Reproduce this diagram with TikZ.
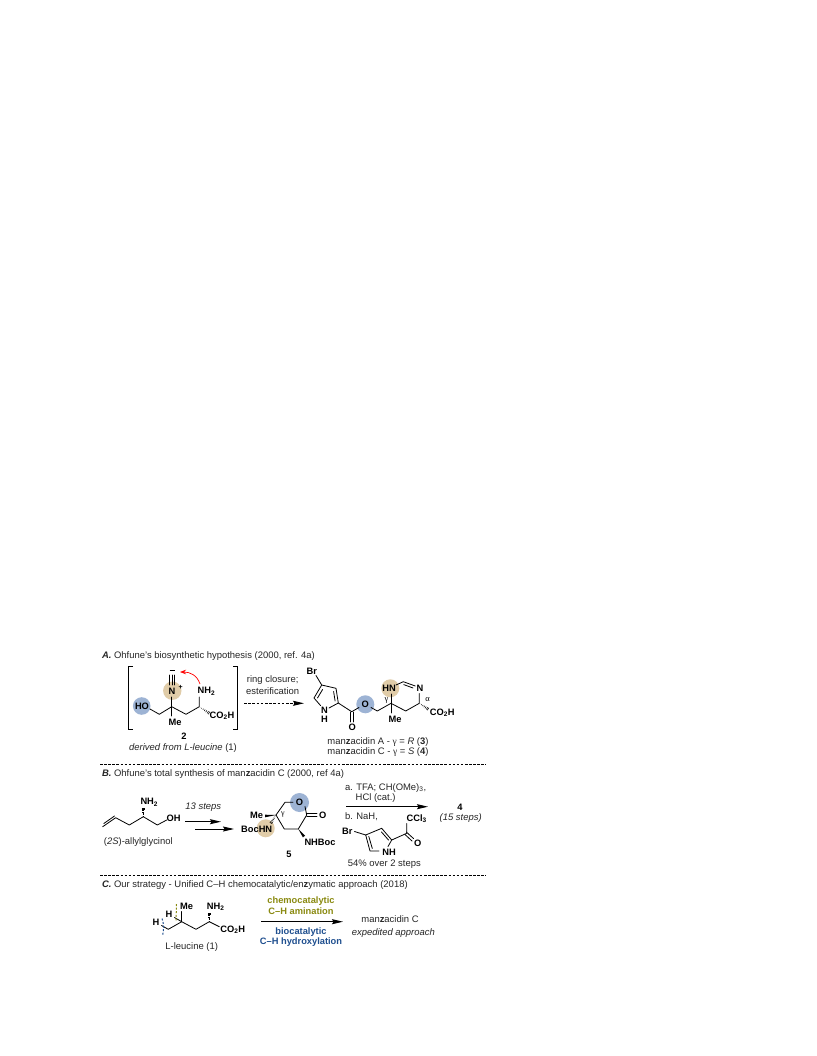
\documentclass[tikz,border=0pt]{standalone}
\usepackage{fontspec}
\setmainfont{Liberation Sans}
\newfontfamily\greekf{Liberation Serif}
\usetikzlibrary{arrows.meta,calc}
\definecolor{bluec}{HTML}{9DB3D4}
\definecolor{tanc}{HTML}{E0CCA8}
\definecolor{olivet}{HTML}{8A8A10}
\definecolor{bluet}{HTML}{1F4F8F}
\newcommand\hashb[4]{\foreach \t in {0.08,0.24,0.40,0.56,0.72,0.88,1.0}{%
  \pgfmathsetmacro\cx{#1+\t*(#3-#1)}\pgfmathsetmacro\cy{#2+\t*(#4-#2)}%
  \pgfmathsetmacro\len{veclen(#3-#1,#4-#2)}%
  \pgfmathsetmacro\nx{-(#4-#2)/\len*\t*1.5}\pgfmathsetmacro\ny{(#3-#1)/\len*\t*1.5}%
  \draw[line width=.55pt] (\cx-\nx-.0,\cy-\ny) -- (\cx+\nx,\cy+\ny);}}
\newcommand\wedgeb[4]{%
  \pgfmathsetmacro\len{veclen(#3-#1,#4-#2)}%
  \pgfmathsetmacro\nx{-(#4-#2)/\len*1.4}\pgfmathsetmacro\ny{(#3-#1)/\len*1.4}%
  \fill (#1,#2) -- (#3-\nx,#4-\ny) -- (#3+\nx,#4+\ny) -- cycle;}
\newcommand\mz{man\textbf{z}acidin}
\newcommand\gam{{\greekf γ}}
\newcommand\alp{{\greekf α}}
\newcommand\sbs[1]{\textsubscript{#1}}
\tikzset{
  txt/.style={inner sep=0pt,outer sep=0pt,font=\fontsize{9.45}{11}\selectfont,text=black!85},
  atom/.style={inner sep=0pt,outer sep=0pt,font=\fontsize{9.3}{11}\selectfont\bfseries},
  bond/.style={line width=.8pt,line join=round,line cap=round},
  rarrow/.style={line width=.9pt,-{Stealth[length=11pt,width=5pt,inset=1.5pt]}},
  bluedisc/.style={fill=bluec,draw=none},
  tandisc/.style={fill=tanc,draw=none},
  rule/.style={line width=.55pt,dash pattern=on 2.6pt off 1.5pt}
}
\begin{document}
\begin{tikzpicture}[x=1pt,y=-1pt]
\useasboundingbox (0,0) rectangle (816,1056);
\fill[white] (0,0) rectangle (816,1056);

% discs
\fill[bluedisc] (141.7,706) circle (8.8);
\fill[tandisc] (172.3,690.7) circle (9.2);
\fill[bluedisc] (365.3,704.3) circle (9);
\fill[tandisc] (390.3,688.3) circle (9);
\fill[tandisc] (265.7,828.3) circle (9);
\fill[bluedisc] (299.5,802.5) circle (9.5);

% Panel A
\node[txt,anchor=west] (ta) at (102,656) {\textbf{\textit{A.}} Ohfune's biosynthetic hypothesis (2000, ref. 4a)};
\draw[line width=.7pt] (133,666) -- (128.3,666) -- (128.3,729) -- (133,729);
\draw[line width=.7pt] (233,666) -- (237.7,666) -- (237.7,729) -- (233,729);
\draw[bond] (150,709) -- (159.3,714.3) -- (171.7,706.7) -- (186,714.3) -- (199.3,706.7) -- (199.3,697);
\draw[bond] (171.7,706.7) -- (171.7,716);
\draw[bond] (171.7,706.7) -- (171.7,697);
\draw[bond] (169.3,675) -- (169.3,685) (171.9,675) -- (171.9,685) (174.5,675) -- (174.5,685);
\draw[line width=.7pt] (169.7,670) -- (174.7,670);
\hashb{199.3}{706.7}{209}{713}
\node[atom] (ho) at (142,706) {HO};
\node[atom] (n2) at (172,691) {N};
\node[atom,font=\fontsize{7}{8}\selectfont\bfseries] (plus) at (180.7,687) {+};
\node[atom] (nh2a) at (206.5,691.5) {NH\sbs{2}};
\node[atom] (co2ha) at (222,715.5) {CO\sbs{2}H};
\node[atom] (mea) at (175,722.5) {Me};
\coordinate (ra) at (200,684);
\coordinate (rb) at (180,672);
\draw[red,line width=.7pt,-{Stealth[length=6pt,width=4.5pt]}] (ra) .. controls (197,675) and (190,672) .. (rb);
\node[atom] (two) at (184,736) {2};
\node[txt] (d2) at (183,748) {\textit{derived from L-leucine} (1)};
\node[txt] (r1) at (272.7,680) {ring closure;};
\node[txt] (r2) at (272.7,690.7) {esterification};
\coordinate (aa) at (244,703.3);
\coordinate (ab) at (304,703.3);
\draw[rarrow,dash pattern=on 2.6pt off 1.6pt] (aa) -- (ab);

% pyrrole A
\draw[bond] (316,675.5) -- (321.7,685) -- (336,688.3) -- (338.3,703) -- (329,708);
\draw[bond] (321.7,685) -- (314,698) -- (320.5,705.5);
\draw[bond] (322.6,689.5) -- (317.5,698);
\draw[bond] (333.6,691.5) -- (335.1,701);
\draw[bond] (338.3,703) -- (351.7,711.7) -- (359,707.5);
\draw[bond] (350.4,712) -- (350.4,722) (353.1,712) -- (353.1,722);
\draw[bond] (371,707.5) -- (377.3,711) -- (391,703.3) -- (405.7,711) -- (419.3,703.3) -- (419.3,693.5);
\draw[bond] (391,703.3) -- (391,713);
\draw[bond] (391,703.3) -- (391,694);
\draw[bond] (396,685) -- (403.3,681.7) -- (415.3,686);
\draw[bond] (403.8,684.6) -- (413,688);
\hashb{419.3}{703.3}{428}{709}
\node[atom] (br1) at (311.7,671) {Br};
\node[atom] (n1) at (324.5,710) {N};
\node[atom] (h1) at (324.5,719) {H};
\node[atom] (oa) at (352.3,727.5) {O};
\node[atom] (ob) at (365.3,704.3) {O};
\node[atom] (hn) at (389,688.5) {HN};
\node[atom] (n3) at (420,688.5) {N};
\node[atom] (me3) at (395,719.3) {Me};
\node[atom] (co2h3) at (442.3,713) {CO\sbs{2}H};
\node[inner sep=0pt,font=\fontsize{8.5}{9}\selectfont] (g3) at (386.5,700) {\gam};
\node[inner sep=0pt,font=\fontsize{8.5}{9}\selectfont] (a3) at (427.5,700) {\alp};
\node[txt] (m1) at (378,741.7) {\mz{} A - \gam{} = \textit{R} (\textbf{3})};
\node[txt] (m2) at (378,752.3) {\mz{} C - \gam{} = \textit{S} (\textbf{4})};

\coordinate (d1a) at (100,764.5); \coordinate (d1b) at (486,764.5);
\draw[rule] (d1a) -- (d1b);

% Panel B
\node[txt,anchor=west] (tb) at (102,774) {\textbf{\textit{B.}} Ohfune's total synthesis of \mz{} C (2000, ref 4a)};
\draw[bond] (102.7,826.7) -- (115.7,817.7) -- (129.3,825) -- (143.3,816.7) -- (157.3,825) -- (166.7,820);
\draw[bond] (103.8,823.5) -- (114.5,816);
\hashb{143.3}{816.7}{143.3}{808}
\node[atom] (nh2b) at (149.3,802.3) {NH\sbs{2}};
\node[atom] (oh) at (173.5,818) {OH};
\node[txt] (ag) at (138.3,841.7) {(\textit{2S})-allylglycinol};
\node[txt] (s13) at (203.3,806.7) {\textit{13 steps}};
\coordinate (b1a) at (185,821.7); \coordinate (b1b) at (221,821.7);
\coordinate (b2a) at (195,829); \coordinate (b2b) at (234,829);
\draw[rarrow] (b1a) -- (b1b);
\draw[rarrow] (b2a) -- (b2b);

\draw[bond] (276,815) -- (285,802.3) -- (293,802.3);
\draw[bond] (305,806.5) -- (306.7,815) -- (298.3,829) -- (284.3,829) -- (276,815);
\draw[bond] (306.7,813.7) -- (317,813.7) (306.7,816.3) -- (317,816.3);
\fill (276,815) -- (265,814.7) -- (265,817.3) -- cycle;
\hashb{276}{815}{271}{823}
\wedgeb{298.3}{829}{304}{836.5}
\node[atom] (me5) at (256.7,815.7) {Me};
\node[atom] (boc) at (256.7,829) {BocHN};
\node[atom] (o5) at (299.5,802.5) {O};
\node[atom] (o5b) at (322.7,815.7) {O};
\node[atom] (nhboc) at (320,842.3) {NHBoc};
\node[atom] (five) at (289,854.3) {5};
\node[inner sep=0pt,font=\fontsize{8}{9}\selectfont] (g5) at (283,815) {\gam};

\node[txt,anchor=west] (ra1) at (345,788) {a. TFA; CH(OMe)\sbs{3},};
\node[txt,anchor=west] (ra2) at (355.7,797.7) {HCl (cat.)};
\coordinate (c1a) at (346,806.7); \coordinate (c1b) at (428,806.7);
\draw[rarrow] (c1a) -- (c1b);
\node[txt,anchor=west] (ra3) at (345,816.7) {b. NaH,};
\draw[bond] (354.5,831.5) -- (365.7,835) -- (381.7,828.3) -- (391.7,840) -- (388,846.5);
\draw[bond] (365.7,835) -- (370,851) -- (379,851);
\draw[bond] (368.8,836.5) -- (372.3,848.5);
\draw[bond] (381.5,832) -- (388.5,840);
\draw[bond] (391.7,840) -- (406.7,833.3) -- (406.7,823.5);
\draw[bond] (406.3,832) -- (413.5,838.5) (404.8,834.3) -- (412,841);
\node[atom] (br2) at (347.3,831.7) {Br};
\node[atom] (nh3) at (389,852) {NH};
\node[atom] (ccl) at (416.7,818.5) {CCl\sbs{3}};
\node[atom] (o3) at (417.7,843.5) {O};
\node[txt] (p54) at (384.3,864) {54\% over 2 steps};
\node[atom] (four) at (460,807.3) {4};
\node[txt] (s15) at (460.7,818.3) {\textit{(15 steps)}};

\coordinate (d2a) at (100,875.7); \coordinate (d2b) at (486,875.7);
\draw[rule] (d2a) -- (d2b);

% Panel C
\node[txt,anchor=west] (tc) at (102,885) {\textbf{\textit{C.}} Our strategy - Unified C--H chemocatalytic/en\textbf{z}ymatic approach (2018)};
\draw[bond] (161.5,925.5) -- (168.3,929.3) -- (181.7,921.7) -- (196,929.3) -- (209.3,921.7) -- (219.3,926.7);
\draw[bond] (181.7,921.7) -- (181.7,911.5);
\draw[bond] (174.5,917.5) -- (181.7,921.7);
\hashb{209.3}{921.7}{209.3}{913}
\draw[olivet,line width=1pt,dash pattern=on 2pt off 1.6pt] (176.5,904) -- (176,921);
\draw[bluet,line width=1pt,dash pattern=on 2pt off 1.6pt] (162,918.5) .. controls (164,924) and (164,929) .. (162.5,936);
\node[atom] (h4) at (156,922.3) {H};
\node[atom] (h5) at (169,914.3) {H};
\node[atom] (mec) at (186.7,906) {Me};
\node[atom] (nh2c) at (215.7,906.7) {NH\sbs{2}};
\node[atom] (co2hc) at (232.7,930) {CO\sbs{2}H};
\node[txt] (leu) at (191.7,947.3) {L-leucine (1)};
\coordinate (e1a) at (261,921.7); \coordinate (e1b) at (343,921.7);
\draw[rarrow] (e1a) -- (e1b);
\node[atom,text=olivet] (cc1) at (301,901) {chemocatalytic};
\node[atom,text=olivet] (cc2) at (301,911) {C--H amination};
\node[atom,text=bluet] (bc1) at (301,931.7) {biocatalytic};
\node[atom,text=bluet] (bc2) at (301,942.3) {C--H hydroxylation};
\node[txt] (mc) at (390,919.5) {\mz{} C};
\node[txt] (ea) at (393.3,932.7) {\textit{expedited approach}};
\end{tikzpicture}
\end{document}
